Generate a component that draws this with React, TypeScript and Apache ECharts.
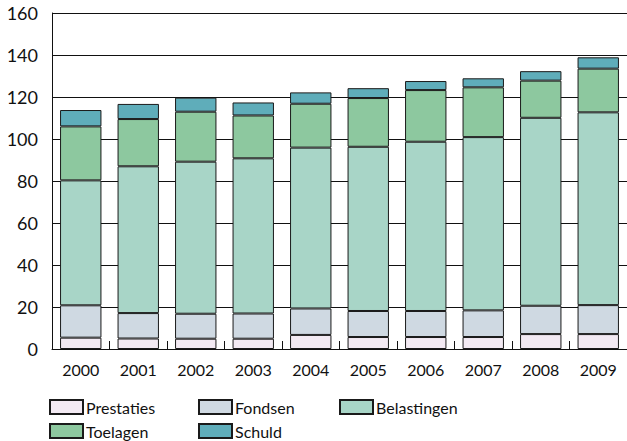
import React, { useEffect, useRef } from "react";
import * as echarts from "echarts";

const years = ["2000", "2001", "2002", "2003", "2004", "2005", "2006", "2007", "2008", "2009"];
const prestaties = [5.4, 5.0, 4.9, 4.9, 6.7, 5.7, 5.7, 5.7, 7.1, 7.1];
const fondsen = [15.4, 12.1, 11.9, 12.0, 12.6, 12.4, 12.4, 12.7, 13.5, 13.8];
const belastingen = [59.5, 69.9, 72.4, 73.9, 76.6, 78.2, 80.6, 82.5, 89.5, 91.8];
const toelagen = [25.7, 22.5, 23.8, 20.4, 20.9, 23.2, 24.6, 23.7, 17.7, 20.8];
const schuld = [7.8, 7.2, 6.7, 6.2, 5.4, 4.7, 4.3, 4.3, 4.5, 5.4];

const seriesDefs = [
  { name: "Prestaties", data: prestaties, color: "#f3eaf3" },
  { name: "Fondsen", data: fondsen, color: "#cfd9e2" },
  { name: "Belastingen", data: belastingen, color: "#a8d5c7" },
  { name: "Toelagen", data: toelagen, color: "#8dc89f" },
  { name: "Schuld", data: schuld, color: "#5fadba" },
];

const FONT = "Lato";

export default function App() {
  const ref = useRef<HTMLDivElement>(null);
  useEffect(() => {
    if (!ref.current) return;
    const chart = echarts.init(ref.current, null, { renderer: "svg" });
    const legendBase = {
      orient: "vertical" as const,
      icon: "rect",
      itemWidth: 33,
      itemHeight: 14,
      itemGap: 8,
      textStyle: { fontFamily: FONT, fontSize: 16, color: "#111", padding: [0, 0, 0, -2] },
      padding: 0,
      selectedMode: false,
    };
    chart.setOption({
      animation: false,
      textStyle: { fontFamily: FONT },
      grid: { left: 52, right: -3, top: 13, bottom: 92, containLabel: false },
      legend: [
        { ...legendBase, left: 49, top: 399, data: ["Prestaties", "Toelagen"] },
        { ...legendBase, left: 198, top: 399, data: ["Fondsen", "Schuld"] },
        { ...legendBase, left: 339, top: 399, data: ["Belastingen"] },
      ],
      xAxis: {
        type: "category",
        data: years,
        boundaryGap: true,
        axisLine: { lineStyle: { color: "#111", width: 1 } },
        axisTick: { show: true, inside: true, length: 8, lineStyle: { color: "#111" } },
        axisLabel: { fontFamily: FONT, fontSize: 16, color: "#111", margin: 12 },
      },
      yAxis: {
        type: "value",
        min: 0,
        max: 160,
        interval: 20,
        axisLine: { show: true, lineStyle: { color: "#111", width: 1 } },
        axisTick: { show: false },
        splitLine: { show: true, lineStyle: { color: "#111", width: 1 } },
        axisLabel: { fontFamily: FONT, fontSize: 18, color: "#111", margin: 14 },
      },
      series: seriesDefs.map((s) => ({
        name: s.name,
        type: "bar",
        stack: "total",
        data: s.data,
        barWidth: "72%",
        itemStyle: { color: s.color, borderColor: "#1a1a1a", borderWidth: 1 },
      })),
    });
    return () => chart.dispose();
  }, []);
  return (
    <div
      ref={ref}
      style={{ position: "fixed", left: 0, top: 0, width: 627, height: 441, background: "#fff" }}
    />
  );
}
